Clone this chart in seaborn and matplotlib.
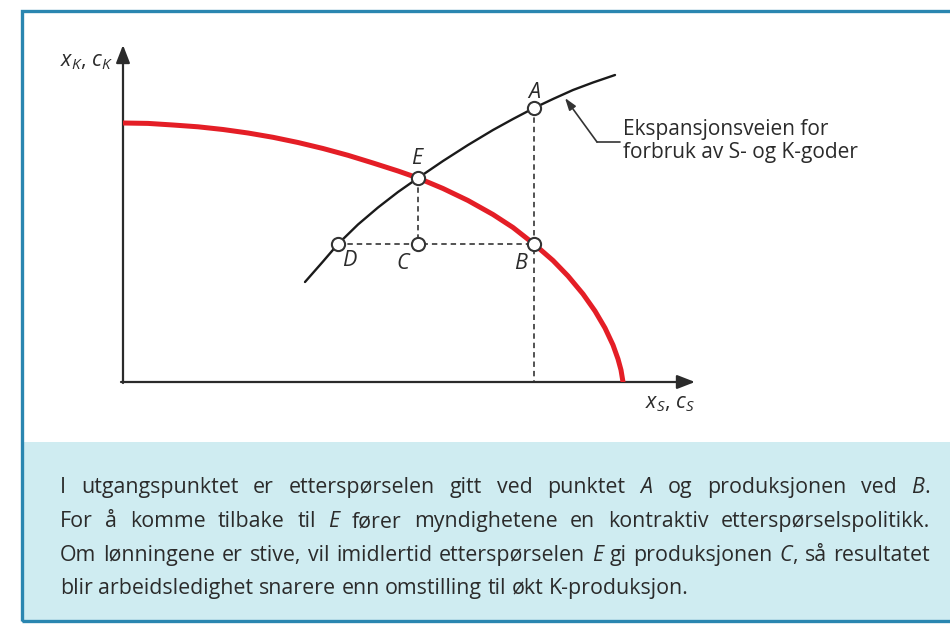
import matplotlib
matplotlib.use("Agg")
import matplotlib.pyplot as plt
import seaborn as sns
from matplotlib.patches import Rectangle

# ---- data (axis units, origin at the corner of the axes) ----
# production possibility curve (red)
ppf_x = [0.0, 0.25, 0.5, 0.75, 1.0, 1.25, 1.5, 1.75, 2.0, 2.25, 2.5, 2.75, 2.95,
         3.2, 3.45, 3.7, 3.9, 4.11, 4.3, 4.45, 4.6, 4.72, 4.82, 4.9, 4.95, 4.98, 5.0]
ppf_y = [2.59, 2.586, 2.57, 2.552, 2.525, 2.49, 2.447, 2.395, 2.335, 2.267, 2.19, 2.11, 2.04,
         1.935, 1.815, 1.675, 1.545, 1.38, 1.215, 1.06, 0.88, 0.71, 0.54, 0.37, 0.23, 0.12, 0.0]

# expansion path (black)
exp_x = [1.82, 2.0, 2.15, 2.35, 2.55, 2.75, 2.95, 3.2, 3.45, 3.7, 3.9, 4.11, 4.3, 4.5, 4.7, 4.92]
exp_y = [1.00, 1.205, 1.38, 1.575, 1.745, 1.90, 2.04, 2.21, 2.37, 2.52, 2.63, 2.74, 2.83, 2.92, 2.995, 3.07]

# marked points
pt_names = ["A", "B", "C", "D", "E"]
pt_x = [4.11, 4.11, 2.95, 2.15, 2.95]
pt_y = [2.74, 1.38, 1.38, 1.38, 2.04]
lab_x = [4.11, 3.98, 2.80, 2.26, 2.94]
lab_y = [2.90, 1.19, 1.19, 1.22, 2.24]

x_max, y_max = 5.72, 3.37

note_lines = ["Ekspansjonsveien for", "forbruk av S- og K-goder"]

caption = [
    "I utgangspunktet er etterspørselen gitt ved punktet _A_ og produksjonen ved _B_.",
    "For å komme tilbake til _E_ fører myndighetene en kontraktiv etterspørselspolitikk.",
    "Om lønningene er stive, vil imidlertid etterspørselen _E_ gi produksjonen _C_, så resultatet",
    "blir arbeidsledighet snarere enn omstilling til økt K-produksjon.",
]

# ---- style ----
sns.set_theme(style="white")
plt.rcParams["font.family"] = ["Open Sans", "DejaVu Sans"]
plt.rcParams["mathtext.fontset"] = "custom"
plt.rcParams["mathtext.it"] = "Open Sans:italic"
plt.rcParams["mathtext.rm"] = "Open Sans"

W, H = 950, 624
ink = "#2b2b2b"
red = "#e41e26"
frame = "#2a86b0"
fill = "#cfecf1"

fig = plt.figure(figsize=(W / 100, H / 100), dpi=100)
fig.patch.set_facecolor("white")


# blue frame and caption box (figure pixel coords)
def px_rect(x0, y0, x1, y1, **kw):
    r = Rectangle((x0 / W, 1 - y1 / H), (x1 - x0) / W, (y1 - y0) / H,
                  transform=fig.transFigure, **kw)
    fig.patches.append(r)


px_rect(23, 442, 960, 621, facecolor=fill, edgecolor="none", zorder=0)
px_rect(22, 11, 960, 621, facecolor="none", edgecolor=frame, lw=2.4, zorder=1)

# main axes: origin at (123, 382) px
ox, oy = 123, 382
ax = fig.add_axes([ox / W, 1 - oy / H, (695 - ox) / W, (oy - 45) / H])
ax.set_xlim(0, x_max)
ax.set_ylim(0, y_max)
ax.axis("off")
ax.patch.set_alpha(0)

# axes with arrows
arr = dict(arrowstyle="-|>,head_length=0.9,head_width=0.35", color=ink, lw=1.6,
           shrinkA=0, shrinkB=0)
ax.annotate("", xy=(x_max, 0), xytext=(-0.02, 0), arrowprops=arr, annotation_clip=False)
ax.annotate("", xy=(0, y_max), xytext=(0, -0.01), arrowprops=arr, annotation_clip=False)

# dashed guides
dash = dict(color="#444444", lw=1.3, linestyle=(0, (3, 2.2)), zorder=2)
ax.plot([pt_x[0], pt_x[0]], [pt_y[0], 0], **dash)
ax.plot([pt_x[4], pt_x[2]], [pt_y[4], pt_y[2]], **dash)
ax.plot([pt_x[3], pt_x[1]], [pt_y[3], pt_y[1]], **dash)

# curves
sns.lineplot(x=ppf_x, y=ppf_y, sort=False, color=red, lw=3.6, ax=ax, zorder=3)
sns.lineplot(x=exp_x, y=exp_y, sort=False, color="#1a1a1a", lw=1.7, ax=ax, zorder=4)

# points
sns.scatterplot(x=pt_x, y=pt_y, s=90, color="white", edgecolor="#333333",
                linewidth=1.5, ax=ax, zorder=5, clip_on=False)
for n, lx, ly in zip(pt_names, lab_x, lab_y):
    ax.text(lx, ly, n, fontsize=15.5, fontstyle="italic", color=ink,
            ha="center", va="center")

# axis labels
ax.text(-0.1, 3.20, r"$x_K$, $c_K$", fontsize=15.5, color=ink, ha="right", va="center")
ax.text(5.22, -0.21, r"$x_S$, $c_S$", fontsize=15.5, color=ink, ha="left", va="center")

# leader to expansion path
ax.plot([4.97, 4.74], [2.40, 2.40], color="#333333", lw=1.2)
ax.annotate("", xy=(4.42, 2.84), xytext=(4.74, 2.40),
            arrowprops=dict(arrowstyle="-|>,head_length=0.6,head_width=0.2",
                            color="#333333", lw=1.2, shrinkA=0, shrinkB=0),
            annotation_clip=False)
ax.text(5.0, 2.41, "\n".join(note_lines), fontsize=15, color=ink,
        ha="left", va="center", linespacing=1.15)

# ---- justified caption ----
renderer = fig.canvas.get_renderer()
cap_size = 15.4


def seg_width(s, style):
    t = fig.text(0, 0, s, fontsize=cap_size, fontstyle=style)
    w = t.get_window_extent(renderer).width
    t.remove()
    return w


space_w = seg_width("x x", "normal") - seg_width("xx", "normal")
left, right = 60, 930
baselines = [493, 527, 561, 594]

for i, (line, yy) in enumerate(zip(caption, baselines)):
    words = []
    for w in line.split(" "):
        segs = [(s, "italic" if k % 2 else "normal") for k, s in enumerate(w.split("_")) if s]
        words.append(segs)
    widths = [sum(seg_width(s, st) for s, st in segs) for segs in words]
    if i < len(caption) - 1:
        gap = (right - left - sum(widths)) / (len(words) - 1)
    else:
        gap = space_w
    x = left
    for segs, ww in zip(words, widths):
        xs = x
        for s, st in segs:
            fig.text(xs / W, 1 - yy / H, s, fontsize=cap_size, fontstyle=st,
                     color=ink, ha="left", va="baseline")
            xs += seg_width(s, st)
        x += ww + gap

fig.savefig("out.png", dpi=100)
